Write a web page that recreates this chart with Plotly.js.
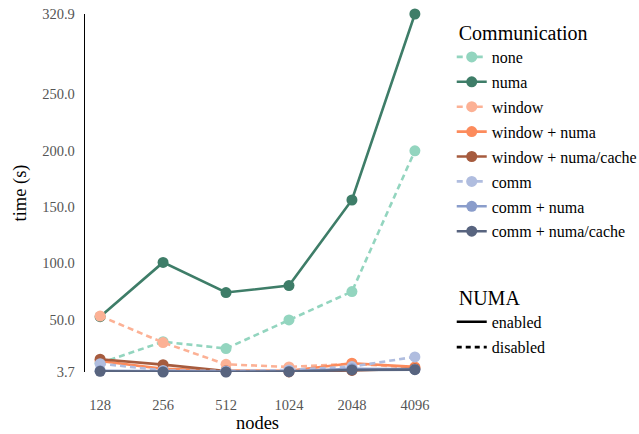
<!DOCTYPE html>
<html>
<head>
<meta charset="utf-8">
<script src="https://cdn.plot.ly/plotly-3.0.1.min.js"></script>
<style>
  html, body { margin: 0; padding: 0; background: #fff; }
  #chart { width: 639px; height: 434px; }
</style>
</head>
<body>
<div id="chart"></div>
<script>
// Runtime (s) per node count for each communication strategy
const nodes = ["128", "256", "512", "1024", "2048", "4096"];

const none           = [11.5, 30.5, 24.5, 49.8, 75.0, 199.7];
const numa           = [52.7, 100.8, 74.1, 80.3, 156.1, 320.9];
const win            = [53.3, 29.8, 10.5, 8.2, 11.0, 7.5];
const winNuma        = [13.5, 6.5, 5.0, 4.8, 11.5, 8.2];
const winNumaCache   = [15.0, 10.2, 4.5, 3.8, 5.1, 6.6];
const comm           = [11.1, 5.1, 4.6, 5.5, 8.5, 17.1];
const commNuma       = [4.8, 4.2, 4.0, 4.3, 6.5, 6.0];
const commNumaCache  = [4.3, 3.7, 3.7, 4.0, 5.5, 5.8];

const seriesNames = ["none", "numa", "window", "window + numa", "window + numa/cache",
                     "comm", "comm + numa", "comm + numa/cache"];
const seriesData  = [none, numa, win, winNuma, winNumaCache, comm, commNuma, commNumaCache];
const seriesColor = ["#93d5bf", "#3e7d68", "#fcb195", "#fc8b5c", "#a65b3e",
                     "#b0bddf", "#8a9dcb", "#58647f"];
const seriesNuma  = [false, true, false, true, true, false, true, true];

const yTicks = [3.7, 50, 100, 150, 200, 250, 320.9];

const serif = "Liberation Serif";

const traces = seriesNames.map((name, i) => ({
  type: "scatter",
  mode: "lines+markers",
  name: name,
  x: nodes,
  y: seriesData[i],
  legend: "legend",
  legendgroup: "g" + i,
  line: { color: seriesColor[i], width: 2.6, dash: seriesNuma[i] ? "solid" : "6px,4px" },
  marker: { color: seriesColor[i], size: 11, line: { width: 0 } },
  cliponaxis: false,
  hoverinfo: "x+y+name"
}));

// Line-style key for the NUMA setting
["enabled", "disabled"].forEach((label, i) => {
  traces.push({
    type: "scatter",
    mode: "lines",
    name: label,
    x: [null],
    y: [null],
    legend: "legend2",
    legendgroup: "n" + i,
    line: { color: "#000", width: 2.6, dash: i === 0 ? "solid" : "5px,4px" },
    showlegend: true
  });
});

const layout = {
  width: 639,
  height: 434,
  margin: { l: 85, r: 209, t: 14, b: 62, autoexpand: false },
  paper_bgcolor: "#fff",
  plot_bgcolor: "#fff",
  font: { family: serif, color: "#000", size: 14 },
  showlegend: true,
  xaxis: {
    type: "category",
    range: [-0.24, 5.24],
    showgrid: false,
    zeroline: false,
    showline: false,
    ticks: "",
    ticklabelstandoff: 22,
    tickfont: { family: serif, size: 14.5, color: "#555" },
    title: { text: "nodes", font: { family: serif, size: 18.5, color: "#000" }, standoff: 4 }
  },
  yaxis: {
    range: [3.7, 320.9],
    tickvals: yTicks,
    ticktext: yTicks.map(v => v.toFixed(1)),
    showgrid: false,
    zeroline: false,
    showline: true,
    linecolor: "#000",
    linewidth: 1.3,
    ticks: "",
    ticklabelstandoff: 6,
    tickfont: { family: serif, size: 14.5, color: "#555" },
    title: { text: "time (s)", font: { family: serif, size: 18.5, color: "#000" }, standoff: 10 }
  },
  legend: {
    x: 1.063, xanchor: "left",
    y: 1.0, yanchor: "top",
    bgcolor: "rgba(0,0,0,0)",
    font: { family: serif, size: 16, color: "#000" },
    title: { text: "&nbsp;Communication", font: { family: serif, size: 20, color: "#000" } },
    tracegroupgap: 1.1,
    itemwidth: 30
  },
  legend2: {
    x: 1.063, xanchor: "left",
    y: 0.26, yanchor: "top",
    bgcolor: "rgba(0,0,0,0)",
    font: { family: serif, size: 16, color: "#000" },
    title: { text: "&nbsp;NUMA", font: { family: serif, size: 20, color: "#000" } },
    tracegroupgap: 1.5,
    itemwidth: 30
  }
};

Plotly.newPlot("chart", traces, layout, { displayModeBar: false, staticPlot: true });
</script>
</body>
</html>
